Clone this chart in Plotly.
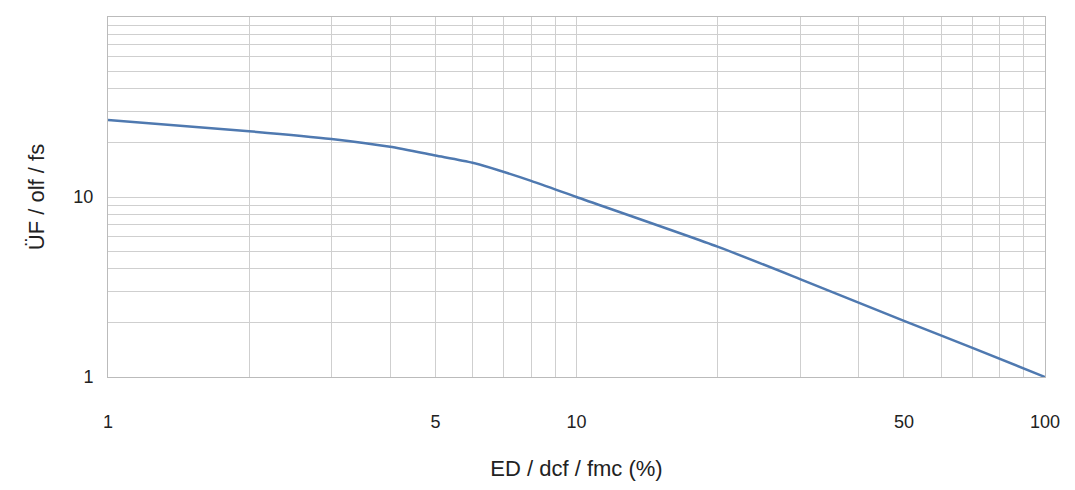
import plotly.graph_objects as go

x_vals = [1, 2, 3, 4, 5, 6, 8, 10, 20, 30, 50, 70, 100]
y_vals = [26.8, 23.2, 21.0, 19.0, 17.0, 15.5, 12.3, 10.0, 5.3, 3.5, 2.05, 1.45, 1.0]
x_ticks = [1, 5, 10, 50, 100]
y_ticks = [1, 10, 100]

fig = go.Figure(go.Scatter(x=x_vals, y=y_vals, mode="lines", line=dict(color="#4f79b0", width=2.5, shape="spline", smoothing=0.6)))
grid = "#cfcfcf"
fig.update_layout(
    width=1075, height=490, margin=dict(l=100, r=38, t=9, b=121, autoexpand=False),
    plot_bgcolor="white", paper_bgcolor="white", showlegend=False,
    font=dict(family="Liberation Sans, Arial", size=18, color="#222"),
    xaxis=dict(type="log", range=[0, 2], tickvals=x_ticks, ticktext=[str(v) for v in x_ticks],
               showgrid=True, gridcolor=grid, minor=dict(showgrid=True, gridcolor=grid, dtick="D1"),
               showline=True, linecolor="#bbb", mirror=True, ticks="outside", ticklen=28,
               tickcolor="rgba(0,0,0,0)", zeroline=False,
               title=dict(text="ED / dcf / fmc (%)", standoff=30)),
    yaxis=dict(type="log", range=[0, 2], tickvals=y_ticks, ticktext=[str(v) for v in y_ticks],
               showgrid=True, gridcolor=grid, minor=dict(showgrid=True, gridcolor=grid, dtick="D1"),
               showline=True, linecolor="#bbb", mirror=True, ticks="outside", ticklen=10,
               tickcolor="rgba(0,0,0,0)", zeroline=False,
               title=dict(text="ÜF / olf / fs", standoff=22)),
)
fig.write_html("out.html")
